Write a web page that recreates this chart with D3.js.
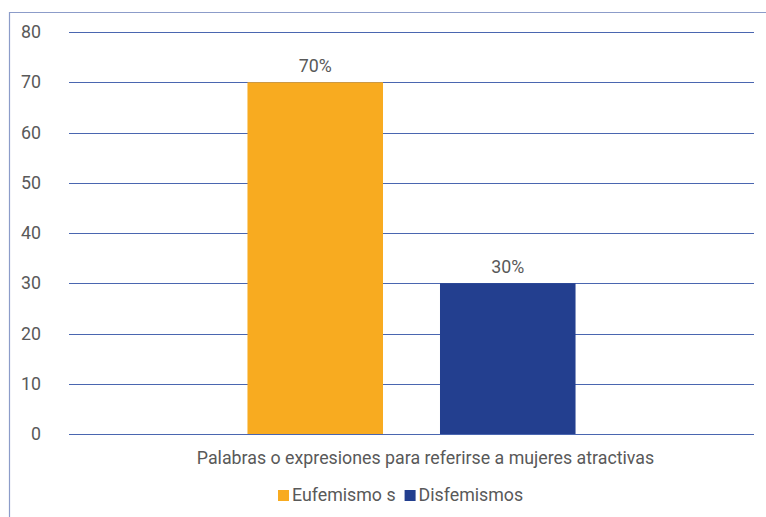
<!DOCTYPE html>
<html>
<head>
<meta charset="utf-8">
<script src="https://cdn.jsdelivr.net/npm/d3@7/dist/d3.min.js"></script>
<style>
  html, body { margin: 0; padding: 0; background: #fff; }
  svg { display: block; font-family: Roboto, "Noto Sans", sans-serif; }
</style>
</head>
<body>
<svg id="chart" width="766" height="517"></svg>
<script>
const category = "Palabras o expresiones para referirse a mujeres atractivas";
const seriesNames = ["Eufemismo s", "Disfemismos"];
const seriesValues = [70, 30];
const seriesColors = ["#f8ab20", "#233f8f"];
const yTicks = [0, 10, 20, 30, 40, 50, 60, 70, 80];

const svg = d3.select("#chart");
const textColor = "#595959";
const fontSize = 17.8;

// Chart area frame
svg.append("path")
  .attr("d", "M9.5,517 V12.5 H766")
  .attr("fill", "none")
  .attr("stroke", "#8c9cc9")
  .attr("stroke-width", 1.2);

const plot = { left: 69, right: 754, top: 32, bottom: 434 };

const y = d3.scaleLinear().domain([0, 80]).range([plot.bottom, plot.top]);
const x0 = d3.scaleBand().domain([category]).range([plot.left, plot.right]).paddingInner(0).paddingOuter(0.544);
const x1 = d3.scaleBand().domain(seriesNames).range([0, x0.bandwidth()]).paddingInner(0.296);

// Gridlines
svg.append("g")
  .selectAll("line")
  .data(yTicks)
  .join("line")
  .attr("x1", plot.left)
  .attr("x2", plot.right)
  .attr("y1", d => Math.round(y(d)) + 0.5)
  .attr("y2", d => Math.round(y(d)) + 0.5)
  .attr("stroke", "#4a66b0")
  .attr("stroke-width", 1.2);

// Y axis labels
const yAxis = d3.axisLeft(y).tickValues(yTicks).tickSize(0).tickPadding(0);
const gy = svg.append("g")
  .attr("transform", `translate(41,0)`)
  .call(yAxis);
gy.select(".domain").remove();
gy.selectAll("text")
  .attr("fill", textColor)
  .attr("font-size", fontSize)
  .attr("font-family", "Roboto, sans-serif");

// Bars
const group = svg.append("g").attr("transform", `translate(${x0(category)},0)`);
group.selectAll("rect")
  .data(seriesValues)
  .join("rect")
  .attr("x", (d, i) => x1(seriesNames[i]))
  .attr("width", x1.bandwidth())
  .attr("y", d => y(d))
  .attr("height", d => y(0) - y(d))
  .attr("fill", (d, i) => seriesColors[i]);

// Value labels
group.selectAll("text.val")
  .data(seriesValues)
  .join("text")
  .attr("class", "val")
  .attr("x", (d, i) => x1(seriesNames[i]) + x1.bandwidth() / 2)
  .attr("y", d => y(d) - 10)
  .attr("text-anchor", "middle")
  .attr("fill", textColor)
  .attr("font-size", fontSize)
  .text(d => d + "%");

// Category label
svg.append("text")
  .attr("x", 425.5)
  .attr("y", 464)
  .attr("text-anchor", "middle")
  .attr("fill", textColor)
  .attr("font-size", fontSize)
  .text(category);

// Legend
const legend = svg.append("g").attr("transform", "translate(278,501)");
let lx = 0;
seriesNames.forEach((name, i) => {
  const g = legend.append("g").attr("transform", `translate(${lx},0)`);
  g.append("rect")
    .attr("x", 0).attr("y", -11)
    .attr("width", 11).attr("height", 11)
    .attr("fill", seriesColors[i]);
  const t = g.append("text")
    .attr("x", 14)
    .attr("y", 0)
    .attr("fill", textColor)
    .attr("font-size", fontSize)
    .text(name);
  lx += 14 + t.node().getComputedTextLength() + 9;
});
</script>
</body>
</html>
